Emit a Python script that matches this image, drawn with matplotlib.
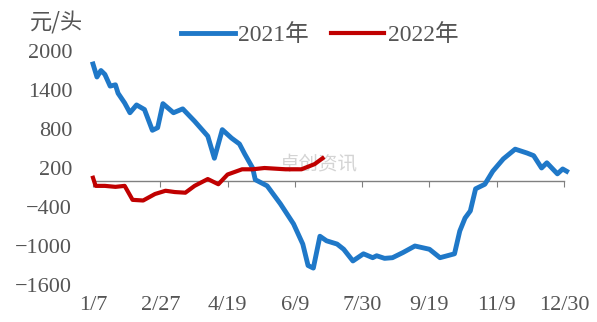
import matplotlib
matplotlib.use("Agg")
import matplotlib.pyplot as plt

# days counted from 1/7
days_2021 = [0, 3, 6, 9, 13, 17, 19, 24, 28, 33, 39, 45, 49, 53, 61, 68, 77,
             87, 92, 98, 105, 111, 115, 121, 123, 132, 142, 152, 159, 163, 167,
             172, 177, 185, 190, 197, 205, 212, 215, 221, 227, 235, 244, 255,
             263, 274, 278, 282, 286, 290, 297, 303, 311, 320, 329, 334, 340,
             344, 352, 356, 359]
values_2021 = [1800, 1600, 1700, 1640, 1460, 1480, 1350, 1200, 1050, 1170,
               1100, 780, 820, 1190, 1050, 1110, 920, 690, 350, 790, 660, 570,
               415, 200, 20, -75, -350, -660, -970, -1300, -1340, -850, -920,
               -970, -1050, -1230, -1120, -1180, -1150, -1190, -1180, -1100,
               -1000, -1050, -1180, -1120, -770, -570, -460, -120, -50, 150,
               340, 490, 430, 390, 200, 280, 110, 185, 150]

days_2022 = [0, 2, 9, 17, 24, 30, 38, 47, 55, 62, 70, 77, 87, 95, 102, 113,
             121, 130, 146, 158, 168, 174]
values_2022 = [50, -75, -75, -90, -75, -290, -300, -200, -150, -170, -180,
               -75, 30, -50, 100, 180, 180, 200, 180, 180, 260, 350]

tick_days = [0, 51, 102, 153, 204, 255, 306, 357]
tick_labels = ["1/7", "2/27", "4/19", "6/9", "7/30", "9/19", "11/9", "12/30"]
y_ticks = [2000, 1400, 800, 200, -400, -1000, -1600]

text_color = "#555555"
plt.rcParams["font.family"] = ["Liberation Serif", "Noto Sans CJK SC", "DejaVu Sans"]

fig = plt.figure(figsize=(5.97, 3.22), dpi=100)
ax = fig.add_axes([93 / 597, 1 - 285 / 322, (564 - 93) / 597, (285 - 51) / 322])

ax.plot(days_2021, values_2021, color="#1f78c8", linewidth=3.5,
        label="2021年", clip_on=False, zorder=3)
ax.plot(days_2022, values_2022, color="#c00000", linewidth=3.0,
        label="2022年", clip_on=False, zorder=4)

ax.text(0.48, 0.515, "卓创资讯", transform=ax.transAxes, fontsize=14,
        color="#d4d4d4", ha="center", va="center", zorder=1,
        family=["Noto Sans CJK SC"])

ax.set_xlim(0, 357)
ax.set_ylim(-1600, 2000)
ax.set_yticks(y_ticks)
ax.tick_params(axis="y", length=0, pad=15, labelsize=16, colors=text_color)

for side in ["left", "right", "top"]:
    ax.spines[side].set_visible(False)
ax.spines["bottom"].set_position(("data", 0))
ax.spines["bottom"].set_color("#808080")
ax.spines["bottom"].set_linewidth(1.0)
ax.set_xticks(tick_days)
ax.tick_params(axis="x", length=4, color="#808080", labelbottom=False)

sec = ax.secondary_xaxis("bottom")
sec.set_xticks(tick_days)
sec.set_xticklabels(tick_labels)
sec.spines["bottom"].set_visible(False)
sec.tick_params(length=0, pad=8, labelsize=16, colors=text_color)

fig.text(30 / 597, 1 - 23 / 322, "元/头", fontsize=16, color=text_color,
         va="center", ha="left", family=["Noto Sans CJK SC"])

fig.legend(loc="center", bbox_to_anchor=(320 / 597, 1 - 35 / 322), ncol=2,
           frameon=False, fontsize=17, handlelength=2.25, handletextpad=0.15,
           columnspacing=0.95, labelcolor=text_color)

fig.savefig("out.png", dpi=100)
